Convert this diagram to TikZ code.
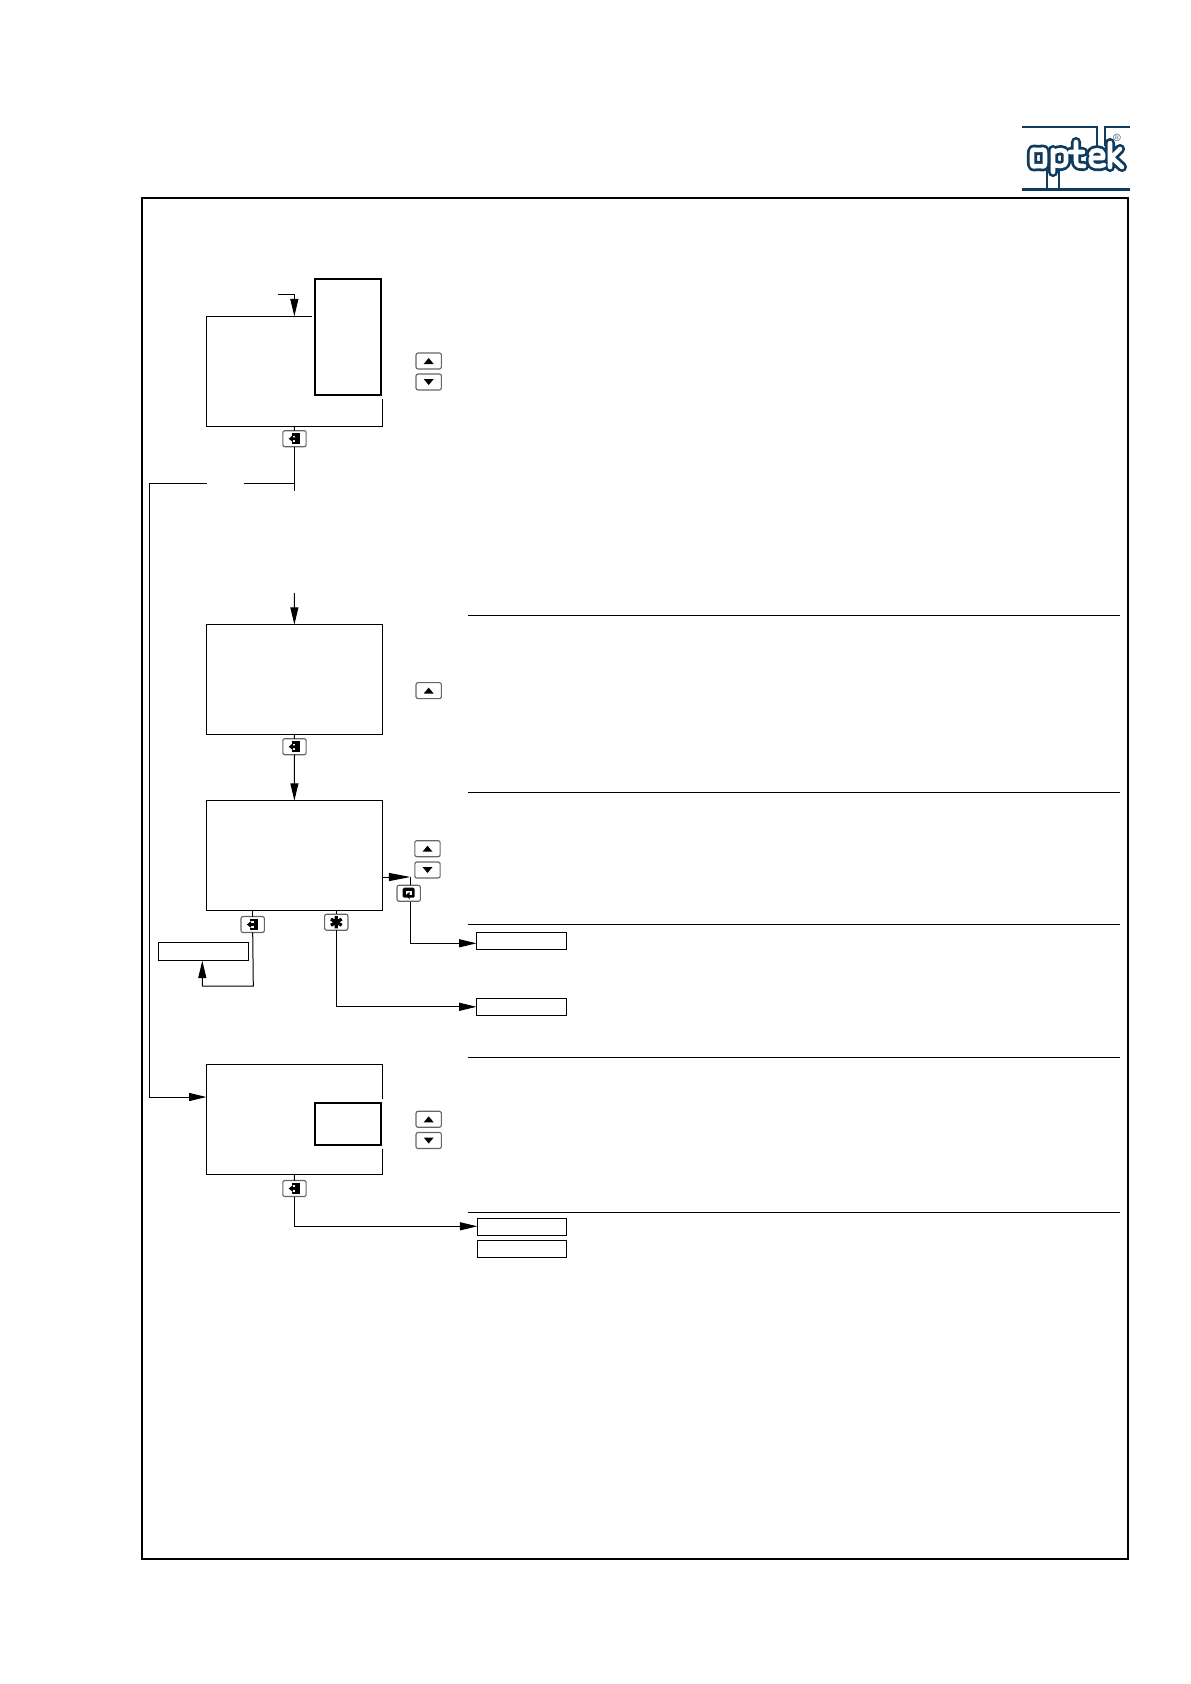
\documentclass[tikz,border=0pt]{standalone}
\usetikzlibrary{arrows.meta,calc}
\definecolor{navy}{HTML}{0F3B5F}
\definecolor{keyrim}{HTML}{666666}
\tikzset{
  x=0.75pt,y=-0.75pt,
  conn/.style={line width=0.75pt,black},
  arr/.style={conn,-{Stealth[length=13pt,width=6pt,inset=0pt]}},
  longarr/.style={conn,-{Stealth[length=16pt,width=6pt,inset=0pt]}},
  panel/.style={draw=black,line width=0.75pt,fill=none,inner sep=0pt,outer sep=0pt},
  thickpanel/.style={draw=black,line width=1.7pt,fill=white,inner sep=0pt,outer sep=0pt},
  tag/.style={draw=black,line width=0.75pt,inner sep=0pt,outer sep=0pt},
  keybox/.style={draw=keyrim,line width=0.85pt,rounded corners=1.5pt,fill=white,inner sep=0pt,outer sep=0pt,minimum width=17.5pt,minimum height=12pt},
  widekey/.style={keybox,minimum width=19pt},
  rule/.style={line width=0.75pt,black},
  logo/.style={navy,line width=1.8pt},
  pics/upglyph/.style={code={\fill[black] (-5,3) -- (5,3) -- (0,-3) -- cycle;}},
  pics/downglyph/.style={code={\fill[black] (-5,-3) -- (5,-3) -- (0,3) -- cycle;}},
  pics/enterglyph/.style={code={
    \fill[black] (-2.5,-5.7) rectangle (5.5,5.7);
    \fill[white] (-3,-3.2) rectangle (0.8,3);
    \fill[black] (-5.8,0) -- (-1.6,-3.4) -- (-1.6,-1.4) -- (1.2,-1.4) -- (1.2,1.4) -- (-1.6,1.4) -- (-1.6,3.4) -- cycle;}},
  pics/returnglyph/.style={code={
    \fill[black,rounded corners=1pt] (-6,-5.6) rectangle (6,4.4);
    \fill[white] (-3,-2.6) rectangle (3,1.4);
    \fill[black] (-2.6,1.6) -- (0.8,-1.4) -- (0.8,6) -- cycle;}},
  pics/starglyph/.style={code={
    \draw[black,line width=2.4pt] (0,-6.2) -- (0,6.2) (-5.4,-3.1) -- (5.4,3.1) (-5.4,3.1) -- (5.4,-3.1);}},
}
% \bx{name}{x1}{y1}{x2}{y2}{style}
\newcommand{\bx}[6]{%
  \pgfmathsetmacro{\bcx}{(#2+#4)/2}\pgfmathsetmacro{\bcy}{(#3+#5)/2}%
  \pgfmathsetmacro{\bw}{(#4-#2)*0.75}\pgfmathsetmacro{\bh}{(#5-#3)*0.75}%
  \node[#6,minimum width=\bw pt,minimum height=\bh pt] (#1) at (\bcx,\bcy) {};}
% \ky{style}{name}{cx}{cy}{glyph}
\newcommand{\ky}[5]{\node[#1] (#2) at (#3,#4) {}; \pic at (#2.center) {#5};}
\newcommand{\logopath}{
  (1032,153) .. controls (1032,148) and (1034,150) .. (1038,150) .. controls (1043,150) and (1045,148) .. (1045,153)
  -- (1045,163) .. controls (1045,168) and (1043,166) .. (1038,166) .. controls (1034,166) and (1032,168) .. (1032,163) -- cycle
  (1053,150) -- (1053,172)
  (1053,153) .. controls (1057,149) and (1066,149) .. (1066,154) -- (1066,162) .. controls (1066,167) and (1057,167) .. (1053,164)
  (1076,142) -- (1076,161) .. controls (1076,166) and (1079,166) .. (1084,166)
  (1070,152) -- (1083,152)
  (1091,154) .. controls (1091,149) and (1103,149) .. (1103,154) -- (1103,158) -- (1091,158) -- (1091,162) .. controls (1091,167) and (1100,167) .. (1104,165)
  (1110,143) -- (1110,167)
  (1110,159) -- (1120,149)
  (1110,156) -- (1122,167)
}
\begin{document}
\begin{tikzpicture}
\useasboundingbox (0,0) rectangle (1190,1684);
\fill[white] (0,0) rectangle (1190,1684);

% outer frame
\bx{frame}{142}{198}{1128}{1559}{draw=black,line width=1.5pt,inner sep=0pt}

% logo
\draw[logo] (1022,126.7) -- (1097,126.7) -- (1097,146);
\draw[logo] (1129.5,126.7) -- (1105,126.7) -- (1105,146);
\draw[logo] (1022,189.3) -- (1129.5,189.3);
\draw[logo] (1047,170) -- (1047,189.3);
\draw[logo] (1059,170) -- (1059,189.3);
\draw[navy,line width=7.6pt,line cap=round,line join=round] \logopath;
\draw[white,line width=3.4pt,line cap=round,line join=round] \logopath;
\node[navy,font=\fontsize{8}{8}\selectfont,inner sep=0pt] (reg) at (1117,138) {\textregistered};

% separator rules
\coordinate (r1a) at (468,615.5);  \coordinate (r1b) at (1120,615.5);
\coordinate (r2a) at (468,792);    \coordinate (r2b) at (1120,792);
\coordinate (r3a) at (468,924.3);  \coordinate (r3b) at (1120,924.3);
\coordinate (r4a) at (468,1057.3); \coordinate (r4b) at (1120,1057.3);
\coordinate (r5a) at (468,1212.7); \coordinate (r5b) at (1120,1212.7);
\draw[rule] (r1a) -- (r1b);
\draw[rule] (r2a) -- (r2b);
\draw[rule] (r3a) -- (r3b);
\draw[rule] (r4a) -- (r4b);
\draw[rule] (r5a) -- (r5b);

% panel 1
\bx{pA}{206.4}{316.3}{382.3}{426}{panel}
\fill[white] (311.7,275) rectangle (385,399);
\bx{pAin}{315}{279}{381}{395}{thickpanel}
\ky{widekey}{aUp}{428.7}{361}{upglyph}
\ky{widekey}{aDn}{428.7}{382}{downglyph}
\ky{keybox}{aEn}{294.5}{438.7}{enterglyph}
\coordinate (aIn) at (278,294);
\draw[arr] (aIn) -| (pA.north);
\draw[conn] (pA.south) -- (aEn.north);
\coordinate (aStub) at (294.5,491);
\coordinate (aJ) at (294.5,483.3);
\coordinate (aGapR) at (244,483.3);
\coordinate (aGapL) at (206.7,483.3);
\coordinate (dIn) at (206.4,1097);
\coordinate (aLeft) at (149.3,483.3);
\draw[conn] (aEn.south) -- (aStub);
\draw[conn] (aJ) -- (aGapR);
\draw[arr] (aGapL) -- (aLeft) |- (dIn);

% panel 2
\bx{pB}{206.4}{624.6}{382.3}{734.6}{panel}
\coordinate (bIn) at (294.4,593);
\draw[arr] (bIn) -- (pB.north);
\ky{widekey}{bUp}{428.7}{690.6}{upglyph}
\ky{keybox}{bEn}{294.5}{746.7}{enterglyph}
\draw[conn] (pB.south) -- (bEn.north);

% panel 3
\bx{pC}{206.4}{800.6}{382.3}{910.3}{panel}
\draw[arr] (bEn.south) -- (pC.north);
\ky{widekey}{cUp}{427.5}{848.7}{upglyph}
\ky{widekey}{cDn}{427.5}{870}{downglyph}
\ky{keybox}{cRe}{408.7}{893.3}{returnglyph}
\ky{keybox}{cEn}{252.7}{924.5}{enterglyph}
\ky{keybox}{cSt}{336.3}{922.2}{starglyph}
\bx{tA}{158.3}{942.3}{248.7}{960.7}{tag}
\bx{tB}{476.5}{932.3}{566.7}{949.3}{tag}
\bx{tC}{476.5}{998.3}{566.7}{1015.3}{tag}
\coordinate (cOut) at (383,877);
\coordinate (cCor) at (410.3,877);
\coordinate (cDown) at (410.3,885.3);
\coordinate (cLow) at (410.3,901.5);
\coordinate (cBend) at (253.3,986);
\coordinate (cUpEnd) at (202.3,960.7);
\coordinate (tBin) at (476.5,943.3);
\draw[longarr] (cOut) -- (cCor);
\draw[conn] (cCor) -- (cDown);
\draw[arr] (cLow) |- (tBin);
\draw[conn] (pC.south -| cEn) -- (cEn.north);
\draw[arr] (cEn.south) -- (cBend) -| (cUpEnd);
\draw[conn] (pC.south -| cSt) -- (cSt.north);
\draw[arr] (cSt.south) |- (tC.west);

% panel 4
\bx{pD}{206.4}{1064.3}{382.3}{1174.3}{panel}
\fill[white] (311,1098.7) rectangle (385,1149);
\bx{pDin}{315}{1102.7}{381}{1145}{thickpanel}
\ky{widekey}{dUp}{428.7}{1119.3}{upglyph}
\ky{widekey}{dDn}{428.7}{1140.5}{downglyph}
\ky{keybox}{dEn}{294.5}{1188.5}{enterglyph}
\bx{tD}{477.3}{1218.3}{566.7}{1235.7}{tag}
\bx{tE}{477.3}{1240.3}{566.7}{1257.7}{tag}
\coordinate (tDin) at (477.3,1226.3);
\draw[conn] (pD.south) -- (dEn.north);
\draw[arr] (dEn.south) |- (tDin);
\end{tikzpicture}
\end{document}
